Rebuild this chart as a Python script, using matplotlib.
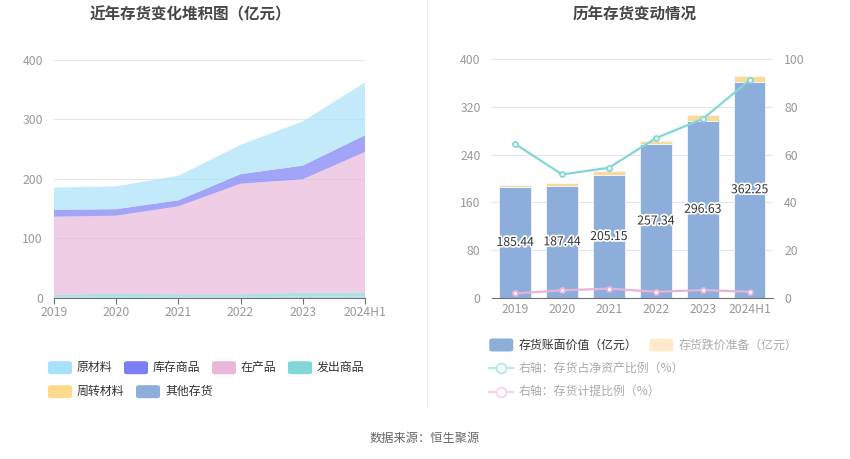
import matplotlib.pyplot as plt
import numpy as np
import matplotlib.patheffects as pe
from matplotlib.patches import FancyBboxPatch
from matplotlib.lines import Line2D

plt.rcParams['font.family'] = ['Noto Sans CJK SC', 'DejaVu Sans']

# data
years = ['2019', '2020', '2021', '2022', '2023', '2024H1']

# left chart, stacked inventory composition (亿元)
other_goods = [1.0, 1.2, 1.0, 1.0, 1.5, 1.5]
turnover_mat = [0.3, 0.3, 0.3, 0.3, 0.3, 0.3]
shipped_goods = [3.5, 5.5, 4.5, 4.5, 6.5, 6.5]
wip = [131.5, 131.0, 148.0, 186.0, 191.0, 237.0]
finished_goods = [11.5, 11.0, 10.0, 16.0, 23.0, 28.0]
raw_material = [37.6, 38.4, 41.4, 49.5, 74.3, 89.0]

# right chart
book_value = [185.44, 187.44, 205.15, 257.34, 296.63, 362.25]
impairment = [3.1, 5.0, 7.5, 6.2, 9.4, 9.2]
net_asset_ratio = [64.5, 51.7, 54.5, 66.9, 75.0, 91.2]
provision_ratio = [1.8, 3.1, 3.8, 2.5, 3.2, 2.5]

W, H = 850, 459
fig = plt.figure(figsize=(W / 100, H / 100), dpi=100)

TICK = '#999999'
GRID = '#E0E6F1'
AXIS = '#6E7079'


def fx(px):
    return px / W


def fy(py):
    return 1 - py / H


def style_axis(ax):
    for s in ('top', 'right', 'left'):
        ax.spines[s].set_visible(False)
    ax.spines['bottom'].set_color(AXIS)
    ax.grid(axis='y', color=GRID, linewidth=0.8)
    ax.set_axisbelow(True)
    ax.tick_params(axis='y', length=0, colors=TICK, labelsize=8.8, pad=8)
    ax.tick_params(axis='x', colors=TICK, labelsize=8.8)


# ---------- left: stacked area ----------
ax1 = fig.add_axes([fx(54), fy(297.7), fx(365 - 54), (297.7 - 60) / H])
x = np.arange(len(years))
layers = [other_goods, turnover_mat, shipped_goods, wip, finished_goods, raw_material]
layer_colors = ['#8DAEDB', '#FFD98E', '#82D8D8', '#E9B8D9', '#7B7EF5', '#A8E2FA']
ax1.stackplot(x, layers, colors=layer_colors, alpha=0.7, linewidth=0)
ax1.set_xlim(0, len(years) - 1)
ax1.set_ylim(0, 400)
ax1.set_yticks([0, 100, 200, 300, 400])
ax1.set_xticks(x)
ax1.set_xticklabels(years)
style_axis(ax1)
ax1.tick_params(axis='x', length=4, color=AXIS, pad=2)

# ---------- right: bars + lines ----------
ax2 = fig.add_axes([fx(491.7), fy(297.7), fx(773 - 491.7), (297.7 - 59.3) / H])
ax2.bar(x, book_value, width=0.68, color='#8DAEDB', edgecolor='#F4F7FC', linewidth=0.6, zorder=2)
ax2.bar(x, impairment, width=0.68, bottom=book_value, color='#FDD999',
        edgecolor='#F4F7FC', linewidth=0.6, zorder=2)
for xi, v in zip(x, book_value):
    ax2.text(xi, v / 2, f'{v:.2f}', ha='center', va='center', fontsize=8.8, color='#333333',
             zorder=5, path_effects=[pe.withStroke(linewidth=2.5, foreground='white')])
ax2.set_xlim(-0.5, len(years) - 0.5)
ax2.set_ylim(0, 400)
ax2.set_yticks([0, 80, 160, 240, 320, 400])
ax2.set_xticks(x)
ax2.set_xticklabels(years)
style_axis(ax2)
ax2.tick_params(axis='x', length=0, pad=4)

ax3 = ax2.twinx()
ax3.set_ylim(0, 100)
ax3.set_yticks([0, 20, 40, 60, 80, 100])
for s in ('top', 'right', 'left', 'bottom'):
    ax3.spines[s].set_visible(False)
ax3.tick_params(axis='y', length=0, colors=TICK, labelsize=8.8, pad=8)
ax3.plot(x, net_asset_ratio, color='#82D7D6', linewidth=1.6, marker='o', markersize=3.6,
         markerfacecolor='white', markeredgecolor='#82D7D6', markeredgewidth=1.3, zorder=4)
ax3.plot(x, provision_ratio, color='#E8B3D9', linewidth=1.6, marker='o', markersize=3.6,
         markerfacecolor='white', markeredgecolor='#E8B3D9', markeredgewidth=1.3, zorder=4)

# ---------- titles, divider, source ----------
fig.text(fx(190), fy(14), '近年存货变化堆积图（亿元）', ha='center', va='center',
         fontsize=11.2, fontweight='bold', color='#464646')
fig.text(fx(635), fy(14), '历年存货变动情况', ha='center', va='center',
         fontsize=11.2, fontweight='bold', color='#464646')
fig.add_artist(Line2D([fx(427), fx(427)], [fy(0), fy(407)], color='#EEEEEE', linewidth=0.8))
fig.text(fx(425), fy(438), '数据来源：恒生聚源', ha='center', va='center',
         fontsize=8.8, color='#666666')


# ---------- legends ----------
def swatch(px, py, color, label, tcolor='#333333'):
    fig.add_artist(FancyBboxPatch((fx(px), fy(py + 6.5)), fx(24), 13 / H,
                                  boxstyle='round,pad=0,rounding_size=0.004',
                                  facecolor=color, edgecolor='none'))
    fig.text(fx(px + 29), fy(py), label, ha='left', va='center', fontsize=8.6, color=tcolor)


def line_item(px, py, color, label, tcolor='#AAAAAA'):
    fig.add_artist(Line2D([fx(px), fx(px + 24)], [fy(py), fy(py)], color=color, linewidth=1.6))
    fig.add_artist(Line2D([fx(px + 12)], [fy(py)], marker='o', markersize=7,
                          markerfacecolor='white', markeredgecolor=color, markeredgewidth=1.4))
    fig.text(fx(px + 29), fy(py), label, ha='left', va='center', fontsize=8.6, color=tcolor)


swatch(48, 367.7, '#A8E2FA', '原材料')
swatch(124, 367.7, '#7B7EF5', '库存商品')
swatch(212, 367.7, '#E9B8D9', '在产品')
swatch(288, 367.7, '#82D8D8', '发出商品')
swatch(48, 391.7, '#FFD98E', '周转材料')
swatch(136, 391.7, '#8DAEDB', '其他存货')

swatch(489.3, 345, '#8DAEDB', '存货账面价值（亿元）')
swatch(649.3, 345, '#FFEBCB', '存货跌价准备（亿元）', tcolor='#AAAAAA')
line_item(489.3, 368.3, '#B7E9E8', '右轴：存货占净资产比例（%）')
line_item(489.3, 391.7, '#F4D5EB', '右轴：存货计提比例（%）')

fig.savefig('out.png', dpi=100)
